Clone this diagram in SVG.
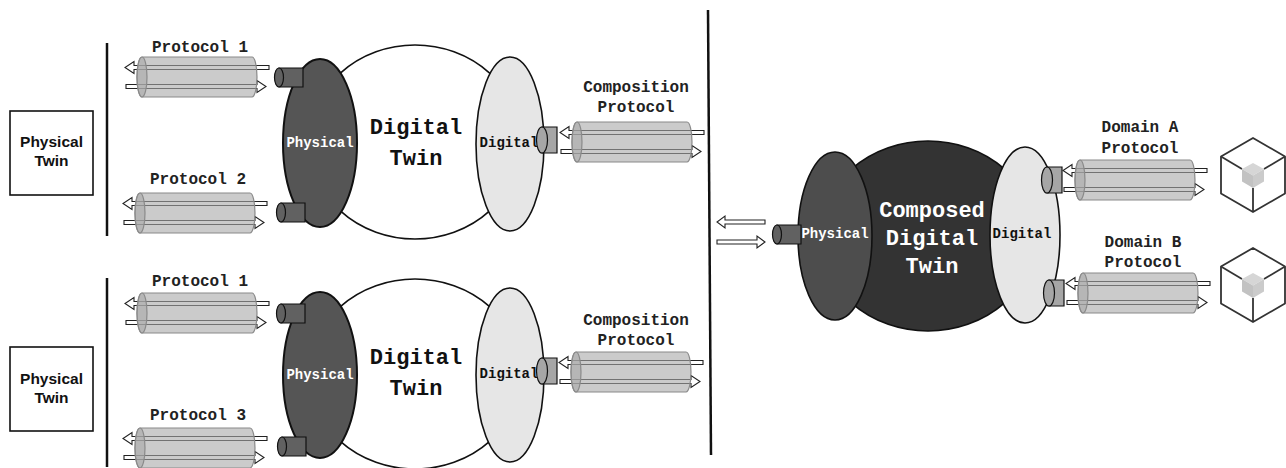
<svg xmlns="http://www.w3.org/2000/svg" xmlns:xlink="http://www.w3.org/1999/xlink" width="1286" height="468" viewBox="0 0 1286 468">
  <style>
    .mono { font-family: "Liberation Mono", "DejaVu Sans Mono", monospace; font-weight: bold; text-anchor: middle; }
    .lbl { font-size: 16px; fill: #222; }
    .side { font-size: 14px; }
    .big { font-size: 22px; }
    .sans { font-family: "Liberation Sans", Arial, sans-serif; font-weight: bold; font-size: 15.5px; text-anchor: middle; fill: #111; }
    .divider { stroke: #111; stroke-width: 2.5; fill: none; }
    .box { fill: #fff; stroke: #111; stroke-width: 1.6; }
    .arrow { fill: #fff; stroke: #222; stroke-width: 1.1; stroke-linejoin: miter; }
    .pipe { fill: #a8a8a8; fill-opacity: 0.6; stroke: #8a8a8a; stroke-width: 1.2; }
    .core { fill: #fff; stroke: #111; stroke-width: 1.6; }
    .phys { fill: #555; stroke: #111; stroke-width: 2; }
    .dig { fill: #e6e6e6; stroke: #111; stroke-width: 1.6; }
    .plugD { fill: #616161; stroke: #111; stroke-width: 1.2; }
    .plugL { fill: #a6a6a6; stroke: #111; stroke-width: 1.2; }
    .hex { fill: #fff; stroke: #333; stroke-width: 1.8; stroke-linejoin: round; }
  </style>
  <defs>
    <!-- a protocol link: two hollow arrows running through a translucent pipe -->
    <g id="link">
      <polygon class="arrow" points="127,8.5 -8,8.5 -8,4.5 -17,10.5 -8,16.5 -8,12.5 127,12.5"/>
      <polygon class="arrow" points="-16,27.5 115,27.5 115,23.5 124,29.5 115,35.5 115,31.5 -16,31.5"/>
      <path class="pipe" d="M0,0 H110 A5,20 0 0 1 110,40 H0 A5,20 0 0 1 0,0 Z"/>
      <ellipse class="pipe" cx="0" cy="20" rx="5" ry="20" fill-opacity="0.3"/>
    </g>
    <!-- dark connector stub on the physical side -->
    <g id="plug-dark">
      <path class="plugD" d="M0,0 H24 V19 H0 Z"/>
      <ellipse class="plugD" cx="0" cy="9.5" rx="4.5" ry="9.5"/>
    </g>
    <!-- light connector stub on the digital side -->
    <g id="plug-light">
      <path class="plugL" d="M0,0 H15 V26 H0 Z"/>
      <ellipse class="plugL" cx="0" cy="13" rx="5.5" ry="13"/>
    </g>
    <!-- box icon for an external domain -->
    <g id="domain-box">
      <polygon class="hex" points="0,-37 32,-18.5 32,18.5 0,37 -32,18.5 -32,-18.5"/>
      <line x1="-32" y1="-18.5" x2="-11" y2="-6" stroke="#333" stroke-width="1.8"/>
      <line x1="32" y1="-18.5" x2="11" y2="-6" stroke="#333" stroke-width="1.8"/>
      <line x1="0" y1="37" x2="0" y2="13" stroke="#333" stroke-width="1.8"/>
      <polygon points="0,-12 11,-6 0,0.5 -11,-6" fill="#d6d6d6"/>
      <polygon points="-11,-6 0,0.5 0,13 -11,6.5" fill="#c2c2c2"/>
      <polygon points="11,-6 0,0.5 0,13 11,6.5" fill="#cbcbcb"/>
    </g>
  </defs>

  <rect width="1286" height="468" fill="#fff"/>

  <!-- dividers -->
  <g id="dividers">
    <line class="divider" x1="107" y1="43" x2="107" y2="236"/>
    <line class="divider" x1="107" y1="278" x2="107" y2="467"/>
    <line class="divider" x1="708" y1="10" x2="711" y2="455"/>
  </g>

  <!-- physical twins -->
  <g id="physical-twin-1">
    <rect class="box" x="10" y="111" width="83" height="84"/>
    <text class="sans" x="51.5" y="147">Physical</text>
    <text class="sans" x="51.5" y="166">Twin</text>
  </g>
  <g id="physical-twin-2">
    <rect class="box" x="10" y="347" width="83" height="84"/>
    <text class="sans" x="51.5" y="384">Physical</text>
    <text class="sans" x="51.5" y="403">Twin</text>
  </g>

  <!-- digital twin 1 -->
  <g id="digital-twin-1">
    <ellipse class="core" cx="415" cy="142" rx="106" ry="97"/>
    <ellipse class="phys" cx="320" cy="143" rx="37" ry="84"/>
    <ellipse class="dig" cx="510" cy="144" rx="34" ry="87"/>
    <text class="mono side" x="320" y="147" fill="#fff">Physical</text>
    <text class="mono side" x="509" y="147" fill="#111">Digital</text>
    <text class="mono big" x="416" y="134" fill="#111">Digital</text>
    <text class="mono big" x="416" y="165" fill="#111">Twin</text>
    <use xlink:href="#plug-dark" x="279" y="68"/>
    <use xlink:href="#plug-dark" x="281" y="203"/>
    <use xlink:href="#plug-light" x="542" y="127"/>
  </g>

  <!-- digital twin 2 -->
  <g id="digital-twin-2">
    <ellipse class="core" cx="415" cy="374" rx="106" ry="95"/>
    <ellipse class="phys" cx="320" cy="375" rx="37" ry="83"/>
    <ellipse class="dig" cx="510" cy="375" rx="34" ry="87"/>
    <text class="mono side" x="320" y="379" fill="#fff">Physical</text>
    <text class="mono side" x="509" y="378" fill="#111">Digital</text>
    <text class="mono big" x="416" y="364" fill="#111">Digital</text>
    <text class="mono big" x="416" y="395" fill="#111">Twin</text>
    <use xlink:href="#plug-dark" x="281" y="304"/>
    <use xlink:href="#plug-dark" x="282" y="437"/>
    <use xlink:href="#plug-light" x="542" y="358"/>
  </g>

  <!-- composed digital twin -->
  <g id="composed-digital-twin">
    <ellipse cx="928" cy="236" rx="108" ry="95" fill="#333" stroke="#111" stroke-width="1.6"/>
    <ellipse cx="835" cy="236" rx="37" ry="84" fill="#4d4d4d" stroke="#111" stroke-width="1.6"/>
    <ellipse class="dig" cx="1025" cy="235" rx="35" ry="88"/>
    <text class="mono side" x="835" y="238" fill="#fff">Physical</text>
    <text class="mono side" x="1022" y="238" fill="#111">Digital</text>
    <text class="mono big" x="932" y="217" fill="#fff">Composed</text>
    <text class="mono big" x="932" y="245" fill="#fff">Digital</text>
    <text class="mono big" x="932" y="273" fill="#fff">Twin</text>
    <use xlink:href="#plug-dark" x="777" y="225"/>
    <use xlink:href="#plug-light" x="1047" y="167"/>
    <use xlink:href="#plug-light" x="1049" y="280"/>
  </g>

  <!-- external domains -->
  <g id="domain-a"><use xlink:href="#domain-box" x="1253" y="175"/></g>
  <g id="domain-b"><use xlink:href="#domain-box" x="1253" y="285"/></g>

  <!-- protocol links -->
  <g id="connectors">
    <use xlink:href="#link" x="142" y="57"/>
    <use xlink:href="#link" x="140" y="193"/>
    <use xlink:href="#link" x="577" y="122"/>
    <use xlink:href="#link" x="142" y="293"/>
    <use xlink:href="#link" x="140" y="428"/>
    <use xlink:href="#link" x="576" y="352"/>
    <use xlink:href="#link" x="1080" y="160"/>
    <use xlink:href="#link" x="1083" y="273"/>
    <polygon class="arrow" points="765,220 725,220 725,216 717,222 725,228 725,224 765,224"/>
    <polygon class="arrow" points="717,240 757,240 757,236 765,242 757,248 757,244 717,244"/>
  </g>

  <!-- link labels -->
  <g id="labels">
    <text class="mono lbl" x="200" y="52">Protocol 1</text>
    <text class="mono lbl" x="198" y="184">Protocol 2</text>
    <text class="mono lbl" x="200" y="286">Protocol 1</text>
    <text class="mono lbl" x="198" y="420">Protocol 3</text>
    <text class="mono lbl" x="636" y="92">Composition</text>
    <text class="mono lbl" x="636" y="112">Protocol</text>
    <text class="mono lbl" x="636" y="325">Composition</text>
    <text class="mono lbl" x="636" y="345">Protocol</text>
    <text class="mono lbl" x="1140" y="132">Domain A</text>
    <text class="mono lbl" x="1140" y="153">Protocol</text>
    <text class="mono lbl" x="1143" y="247">Domain B</text>
    <text class="mono lbl" x="1143" y="267">Protocol</text>
  </g>
</svg>
